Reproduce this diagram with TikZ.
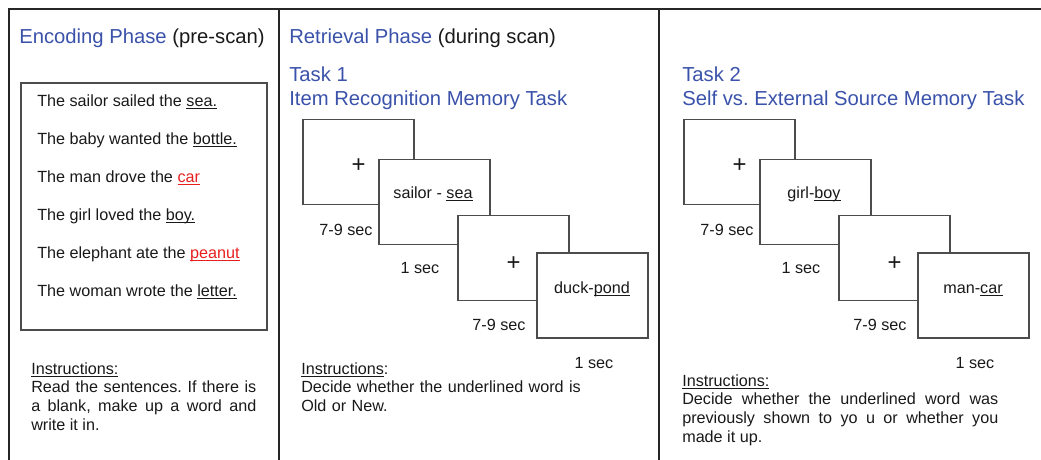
\documentclass[tikz,border=0pt]{standalone}
\usepackage{fontspec}
\setmainfont{Liberation Sans}
\usepackage{xcolor}
\usepackage{tikz}
\frenchspacing
\definecolor{headblue}{RGB}{58,82,170}
\definecolor{wordred}{RGB}{232,30,30}
\newsavebox{\uwbox}
\newcommand{\uw}[1]{\sbox{\uwbox}{#1}\rlap{\rule[-2.2pt]{\wd\uwbox}{0.7pt}}\usebox{\uwbox}}
% one trial sequence: fixation, word pair, fixation, word pair
\newcommand{\trialrow}[3]{%
  \node[scr] (#1fixA) at (358.5,162) {};
  \node[cross] (#1plusA) at (358.5,166) {+};
  \node[scr] (#1pairA) at (434.5,202) {};
  \node[secs] (#1wordA) at (433,198) {#2};
  \node[scr] (#1fixB) at (513.5,258) {};
  \node[cross] (#1plusB) at (513.5,264) {+};
  \node[scr] (#1pairB) at (592.5,295.5) {};
  \node[secs] (#1wordB) at (592,293) {#3};
  \node[secs] (#1tA) at (346,235) {7-9 sec};
  \node[secs] (#1tB) at (420,273) {1 sec};
  \node[secs] (#1tC) at (499,330) {7-9 sec};
  \node[secs] (#1tD) at (594,368) {1 sec};
}

\begin{document}
\begin{tikzpicture}[x=0.025cm, y=-0.025cm,
  every node/.style={font=\fontsize{11.5}{13.4}\selectfont, text=black!90, inner sep=0}]
\tikzset{
  head/.style={font=\fontsize{14.4}{17}\selectfont, anchor=base west},
  sline/.style={anchor=base west},
  secs/.style={anchor=base},
  cross/.style={font=\fontsize{17}{17}\selectfont},
  scr/.style={draw=black!70, line width=1.2pt, fill=white, minimum width=2.775cm, minimum height=2.125cm},
  instr/.style={anchor=base west, text width=#1, align=justify},
}
\useasboundingbox (0,0) rectangle (1041,460);
% panel frame
\draw[line width=1.2pt, black!85] (9,460) -- (9,9) -- (1041,9);
\draw[line width=1.2pt, black!85] (279,9) -- (279,460);
\draw[line width=1.2pt, black!85] (659,9) -- (659,460);
% encoding phase
\node[head] (enchead) at (19,44) {\textcolor{headblue}{Encoding Phase} (pre-scan)};
\node[draw=black!70, line width=1.2pt, minimum width=6.15cm, minimum height=6.175cm] (sentbox) at (144,206.5) {};
\foreach \s [count=\i] in {{The sailor sailed the \uw{sea.}}, {The baby wanted the \uw{bottle.}},
    {The man drove the \textcolor{wordred}{\uw{car}}}, {The girl loved the \uw{boy.}},
    {The elephant ate the \textcolor{wordred}{\uw{peanut}}}, {The woman wrote the \uw{letter.}}}
  \node[sline] (sent\i) at (37,68+38*\i) {\s};
\node[instr=5.625cm] (encinstr) at (31,374) {\uw{Instructions:}\par
  Read the sentences. If there is\linebreak a blank, make up a word and\linebreak write it in.};
% retrieval phase, task 1
\node[head] (rethead) at (289,44) {\textcolor{headblue}{Retrieval Phase} (during scan)};
\node[head, text=headblue] (taskA) at (289,81) {Task 1};
\node[head, text=headblue] (taskAname) at (289,105) {Item Recognition Memory Task};
\begin{scope}
  \trialrow{r}{sailor - \uw{sea}}{duck-\uw{pond}}
\end{scope}
\node[instr=7cm, align=left] (retinstr) at (301,374) {\uw{Instructions}:\\
  Decide whether the underlined word is\\ Old or New.};
% task 2
\node[head, text=headblue] (taskB) at (682,81) {Task 2};
\node[head, text=headblue] (taskBname) at (682,105) {Self vs. External Source Memory Task};
\begin{scope}[shift={(381,0)}]
  \trialrow{s}{girl-\uw{boy}}{man-\uw{car}}
\end{scope}
\node[instr=7.9cm] (srcinstr) at (682,386) {\uw{Instructions:}\par
  Decide whether the underlined word was\linebreak previously shown to yo u or whether you\linebreak made it up.};
\end{tikzpicture}
\end{document}
